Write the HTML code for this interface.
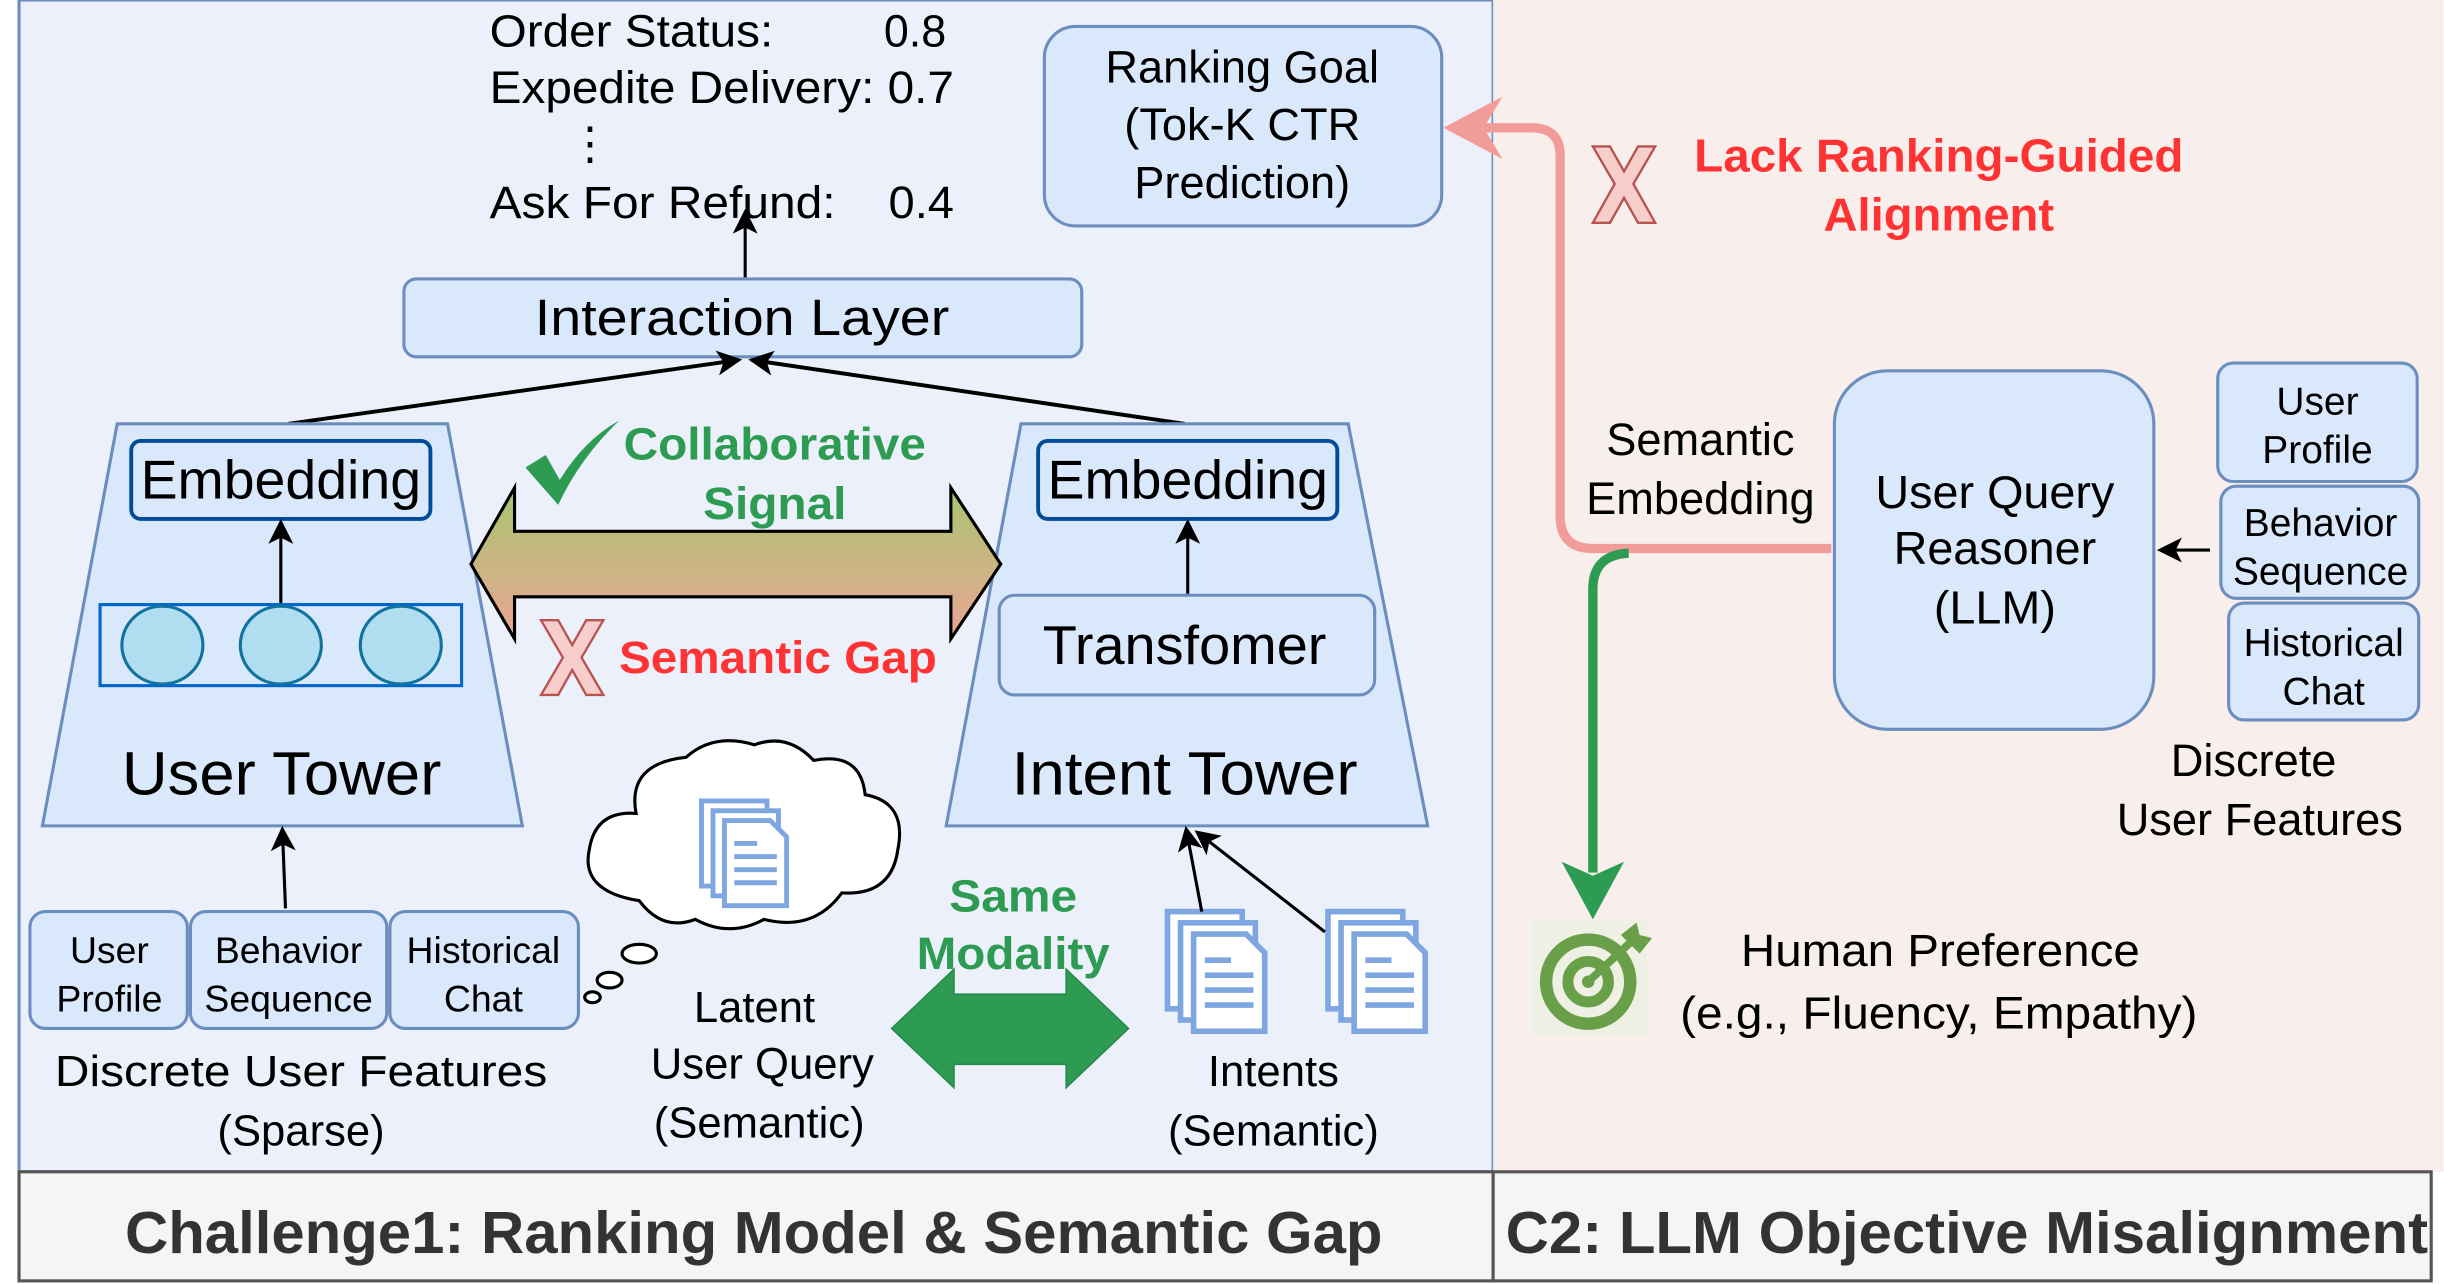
<!DOCTYPE html>
<html><head><meta charset="utf-8"><style>
html,body{margin:0;padding:0;background:#fff;}
svg{display:block;}
text{font-family:"Liberation Sans",Arial,sans-serif;fill:#000;}
</style></head><body>
<svg width="2444" height="1284" viewBox="0 0 1568 824" xmlns="http://www.w3.org/2000/svg">
<defs>
<linearGradient id="g1" x1="0" y1="0" x2="0" y2="1"><stop offset="0" stop-color="#a9c56f"/><stop offset="1" stop-color="#eaa595"/></linearGradient>
<marker id="ahB" markerWidth="16" markerHeight="16" refX="14" refY="8" orient="auto" markerUnits="userSpaceOnUse"><path d="M0,0 L16,8 L0,16 L4,8 Z" fill="#000"/></marker>
<g id="doc"><rect x="0" y="0" width="40" height="52" fill="#fff" stroke="#7ea6e0" stroke-width="3"/><rect x="7" y="6" width="40" height="52" fill="#fff" stroke="#7ea6e0" stroke-width="3"/><path d="M14,12 h28 l10,10 v42 h-38 z" fill="#fff" stroke="#7ea6e0" stroke-width="3"/><path d="M20,34 h26 M20,42 h26 M20,50 h26 M20,26 h14" stroke="#7ea6e0" stroke-width="3"/></g>
</defs>
<rect x="12" y="0" width="946" height="752" fill="#ebf0fb" stroke="#6c8ebf" stroke-width="2"/>
<rect x="958" y="0" width="610" height="752" fill="#f8efed"/>
<rect x="12" y="752" width="946" height="70" fill="#f5f5f5" stroke="#555" stroke-width="2"/>
<rect x="958" y="752" width="602" height="70" fill="#f5f5f5" stroke="#555" stroke-width="2"/>
<text x="80" y="804" font-size="38" font-weight="bold" textLength="807" lengthAdjust="spacingAndGlyphs" style="fill:#333">Challenge1: Ranking Model &amp; Semantic Gap</text>
<text x="966" y="804" font-size="38" font-weight="bold" textLength="592" lengthAdjust="spacingAndGlyphs" style="fill:#333">C2: LLM Objective Misalignment</text>

<g font-size="29">
<text x="314" y="30" textLength="182" lengthAdjust="spacingAndGlyphs">Order Status:</text><text x="567" y="30" textLength="40" lengthAdjust="spacingAndGlyphs">0.8</text>
<text x="314" y="66" textLength="298" lengthAdjust="spacingAndGlyphs">Expedite Delivery: 0.7</text>
<text x="364" y="102">⋮</text>
<text x="314" y="140" textLength="222" lengthAdjust="spacingAndGlyphs">Ask For Refund:</text><text x="570" y="140" textLength="42" lengthAdjust="spacingAndGlyphs">0.4</text>
</g>
<rect x="670" y="17" width="255" height="128" rx="20" fill="#dae8fc" stroke="#6c8ebf" stroke-width="2"/>
<g font-size="29" text-anchor="middle"><text x="797" y="53">Ranking Goal</text><text x="797" y="90">(Tok-K CTR</text><text x="797" y="127">Prediction)</text></g>

<line x1="478" y1="178" x2="478" y2="136" stroke="#000" stroke-width="2" marker-end="url(#ahB)"/>
<rect x="259" y="179" width="435" height="50" rx="8" fill="#dae8fc" stroke="#6c8ebf" stroke-width="2"/>
<text x="343" y="215" font-size="33" textLength="266" lengthAdjust="spacingAndGlyphs">Interaction Layer</text>
<line x1="185" y1="272" x2="474" y2="231" stroke="#000" stroke-width="2.5" marker-end="url(#ahB)"/>
<line x1="760" y1="272" x2="482" y2="231" stroke="#000" stroke-width="2.5" marker-end="url(#ahB)"/>

<polygon points="75,272 287,272 335,530 27,530" fill="#dae8fc" stroke="#6c8ebf" stroke-width="2"/>
<rect x="84" y="283" width="192" height="50" rx="6" fill="#dae8fc" stroke="#004c99" stroke-width="2.5"/>
<text x="90" y="320" font-size="35" textLength="180" lengthAdjust="spacingAndGlyphs">Embedding</text>
<line x1="180" y1="388" x2="180" y2="335" stroke="#000" stroke-width="2" marker-end="url(#ahB)"/>
<rect x="64" y="388" width="232" height="52" fill="none" stroke="#0066cc" stroke-width="2"/>
<g fill="#b1ddf0" stroke="#10739e" stroke-width="2"><ellipse cx="104" cy="414" rx="26" ry="25"/><ellipse cx="180" cy="414" rx="26" ry="25"/><ellipse cx="257" cy="414" rx="26" ry="25"/></g>
<text x="78" y="510" font-size="39" textLength="205" lengthAdjust="spacingAndGlyphs">User Tower</text>

<polygon points="655,272 865,272 916,530 607,530" fill="#dae8fc" stroke="#6c8ebf" stroke-width="2"/>
<rect x="666" y="283" width="192" height="50" rx="6" fill="#dae8fc" stroke="#004c99" stroke-width="2.5"/>
<text x="672" y="320" font-size="35" textLength="180" lengthAdjust="spacingAndGlyphs">Embedding</text>
<rect x="641" y="382" width="241" height="64" rx="10" fill="#dae8fc" stroke="#6c8ebf" stroke-width="2"/>
<text x="669" y="426" font-size="35" textLength="182" lengthAdjust="spacingAndGlyphs">Transfomer</text>
<line x1="762" y1="381" x2="762" y2="335" stroke="#000" stroke-width="2" marker-end="url(#ahB)"/>
<text x="649" y="510" font-size="39" textLength="222" lengthAdjust="spacingAndGlyphs">Intent Tower</text>

<polygon points="302,362 330,313 330,341 610,341 610,313 642,362 610,410 610,383 330,383 330,410" fill="url(#g1)" stroke="#000" stroke-width="2"/>
<path d="M337,300 L350,292 L359,308 Q375,282 397,270 Q372,294 358,324 Z" fill="#2d9b52"/>
<g font-size="29" font-weight="bold"><text x="400" y="295" textLength="194" lengthAdjust="spacingAndGlyphs" style="fill:#2d9b52">Collaborative</text><text x="451" y="333" textLength="92" lengthAdjust="spacingAndGlyphs" style="fill:#2d9b52">Signal</text></g>
<path d="M347,398 h11 l9,16 l9,-16 h11 l-14,24 l14,24 h-11 l-9,-16 l-9,16 h-11 l14,-24 z" fill="#f8cecc" stroke="#b85450" stroke-width="1.5"/>
<text x="397" y="432" font-size="29" font-weight="bold" textLength="204" lengthAdjust="spacingAndGlyphs" style="fill:#ff3333">Semantic Gap</text>

<line x1="183" y1="583" x2="181" y2="532" stroke="#000" stroke-width="2" marker-end="url(#ahB)"/>
<g fill="#dae8fc" stroke="#6c8ebf" stroke-width="2">
<rect x="19" y="585" width="101" height="75" rx="10"/><rect x="122" y="585" width="126" height="75" rx="10"/><rect x="250" y="585" width="121" height="75" rx="10"/></g>
<g font-size="24" text-anchor="middle">
<text x="70" y="618">User</text><text x="70" y="649">Profile</text>
<text x="185" y="618">Behavior</text><text x="185" y="649">Sequence</text>
<text x="310" y="618">Historical</text><text x="310" y="649">Chat</text></g>
<text x="35" y="697" font-size="28" textLength="316" lengthAdjust="spacingAndGlyphs">Discrete User Features</text>
<text x="193" y="735" font-size="28" text-anchor="middle">(Sparse)</text>

<path d="M410,578 Q372,572 378,545 Q382,520 408,522 Q402,490 440,486 Q458,470 484,478 Q505,470 522,488 Q552,482 555,510 Q582,515 576,545 Q572,575 540,573 Q522,598 490,590 Q468,602 446,590 Q425,598 410,578 Z" fill="#fff" stroke="#000" stroke-width="2"/>
<use href="#doc" x="0" y="0" transform="translate(450,514) scale(1.05)"/>
<ellipse cx="410" cy="612" rx="11" ry="6" fill="#fff" stroke="#000" stroke-width="2"/>
<ellipse cx="391" cy="629" rx="8" ry="5" fill="#fff" stroke="#000" stroke-width="2"/>
<ellipse cx="380" cy="640" rx="5" ry="3.5" fill="#fff" stroke="#000" stroke-width="2"/>
<g font-size="28" text-anchor="middle"><text x="484" y="656">Latent</text><text x="489" y="692">User Query</text><text x="487" y="730">(Semantic)</text></g>
<g font-size="29" font-weight="bold"><text x="609" y="585" textLength="82" lengthAdjust="spacingAndGlyphs" style="fill:#2d9b52">Same</text><text x="588" y="622" textLength="124" lengthAdjust="spacingAndGlyphs" style="fill:#2d9b52">Modality</text></g>
<polygon points="572,660 612,622 612,638 684,638 684,622 724,660 684,698 684,683 612,683 612,698" fill="#2d9b52" stroke="#27884a" stroke-width="1"/>
<use href="#doc" x="0" y="0" transform="translate(749,585) scale(1.2)"/>
<use href="#doc" x="0" y="0" transform="translate(852,585) scale(1.2)"/>
<line x1="771" y1="585" x2="761" y2="532" stroke="#000" stroke-width="2" marker-end="url(#ahB)"/>
<line x1="850" y1="598" x2="768" y2="534" stroke="#000" stroke-width="2" marker-end="url(#ahB)"/>
<g font-size="28" text-anchor="middle"><text x="817" y="697">Intents</text><text x="817" y="735">(Semantic)</text></g>

<path d="M1175,352 H1022 Q1001,352 1001,331 V100 Q1001,82 983,82 H940" fill="none" stroke="#f19c99" stroke-width="6"/>
<polygon points="926,82 964,62 952,82 964,102" fill="#f19c99"/>
<path d="M1045,355 Q1022,356 1022,378 V560" fill="none" stroke="#2d9b52" stroke-width="6"/>
<polygon points="1022,590 1002,553 1022,562 1042,553" fill="#2d9b52"/>
<path d="M1022,94 h11 l9,16 l9,-16 h11 l-14,24 l14,25 h-11 l-9,-16 l-9,16 h-11 l14,-25 z" fill="#f8cecc" stroke="#b85450" stroke-width="1.5"/>
<g font-size="30" font-weight="bold"><text x="1087" y="110" textLength="314" lengthAdjust="spacingAndGlyphs" style="fill:#ff3333">Lack Ranking-Guided</text><text x="1170" y="148" textLength="148" lengthAdjust="spacingAndGlyphs" style="fill:#ff3333">Alignment</text></g>
<g font-size="29" text-anchor="middle"><text x="1091" y="292">Semantic</text><text x="1091" y="330">Embedding</text></g>
<rect x="1177" y="238" width="205" height="230" rx="34" fill="#dae8fc" stroke="#6c8ebf" stroke-width="2"/>
<g font-size="30" text-anchor="middle"><text x="1280" y="326">User Query</text><text x="1280" y="362">Reasoner</text><text x="1280" y="400">(LLM)</text></g>
<line x1="1418" y1="353" x2="1386" y2="353" stroke="#000" stroke-width="2" marker-end="url(#ahB)"/>
<g fill="#dae8fc" stroke="#6c8ebf" stroke-width="2">
<rect x="1423" y="233" width="128" height="76" rx="10"/><rect x="1425" y="312" width="127" height="72" rx="10"/><rect x="1430" y="387" width="122" height="75" rx="10"/></g>
<g font-size="25" text-anchor="middle">
<text x="1487" y="266">User</text><text x="1487" y="297">Profile</text>
<text x="1489" y="344">Behavior</text><text x="1489" y="375">Sequence</text>
<text x="1491" y="421">Historical</text><text x="1491" y="452">Chat</text></g>
<g font-size="29" text-anchor="middle"><text x="1446" y="498">Discrete</text><text x="1450" y="536">User Features</text></g>
<rect x="983" y="590" width="74" height="75" fill="#eef0e4"/>
<circle cx="1019" cy="630" r="27" fill="none" stroke="#6a9f49" stroke-width="8"/>
<circle cx="1019" cy="630" r="13" fill="none" stroke="#6a9f49" stroke-width="7"/>
<circle cx="1019" cy="630" r="4" fill="#6a9f49"/>
<line x1="1019" y1="630" x2="1048" y2="603" stroke="#6a9f49" stroke-width="5"/>
<path d="M1040,600 l10,-8 l2,8 l8,2 l-8,10 z" fill="#6a9f49"/>
<text x="1117" y="620" font-size="29" textLength="256" lengthAdjust="spacingAndGlyphs">Human Preference</text>
<text x="1078" y="660" font-size="29" textLength="332" lengthAdjust="spacingAndGlyphs">(e.g., Fluency, Empathy)</text>
</svg>
</body></html>
